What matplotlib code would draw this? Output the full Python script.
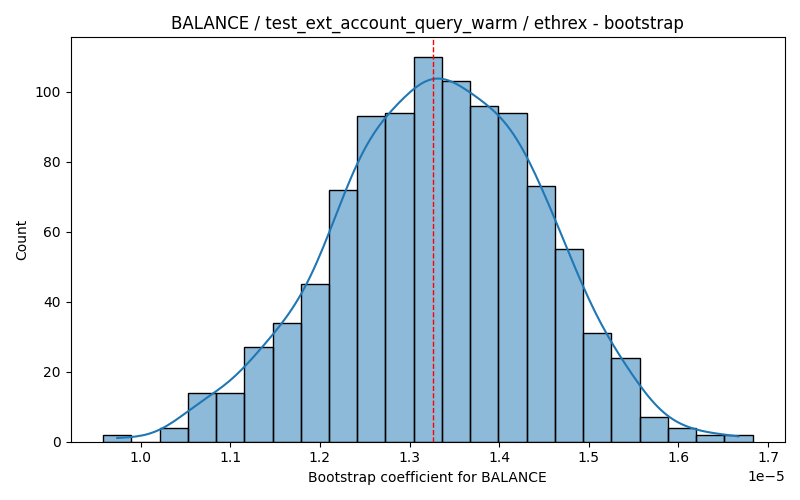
import numpy as np
import matplotlib
matplotlib.use("Agg")
import matplotlib.pyplot as plt
import seaborn as sns

# Bootstrap histogram (units of 1e-5)
bin_start = 0.9582e-5
bin_end = 1.6826e-5
counts = [2, 0, 4, 14, 14, 27, 34, 45, 72, 93, 94, 110,
          103, 96, 94, 73, 55, 31, 24, 7, 4, 2, 2]
mean_coef = 1.3267e-5

edges = np.linspace(bin_start, bin_end, len(counts) + 1)
centers = (edges[:-1] + edges[1:]) / 2
# one value per bootstrap draw, placed at its bin centre
samples = np.repeat(centers, counts)

fig, ax = plt.subplots(figsize=(8, 5), dpi=100)
sns.histplot(x=samples, bins=list(edges), kde=True, ax=ax)
ax.axvline(mean_coef, color="red", linestyle="--", linewidth=1)
ax.set_xlim(bin_start - 0.05 * (bin_end - bin_start),
            bin_end + 0.05 * (bin_end - bin_start))

ax.set_title("BALANCE / test_ext_account_query_warm / ethrex - bootstrap")
ax.set_xlabel("Bootstrap coefficient for BALANCE")
ax.set_ylabel("Count")

plt.tight_layout()
plt.savefig("out.png")
plt.close()
